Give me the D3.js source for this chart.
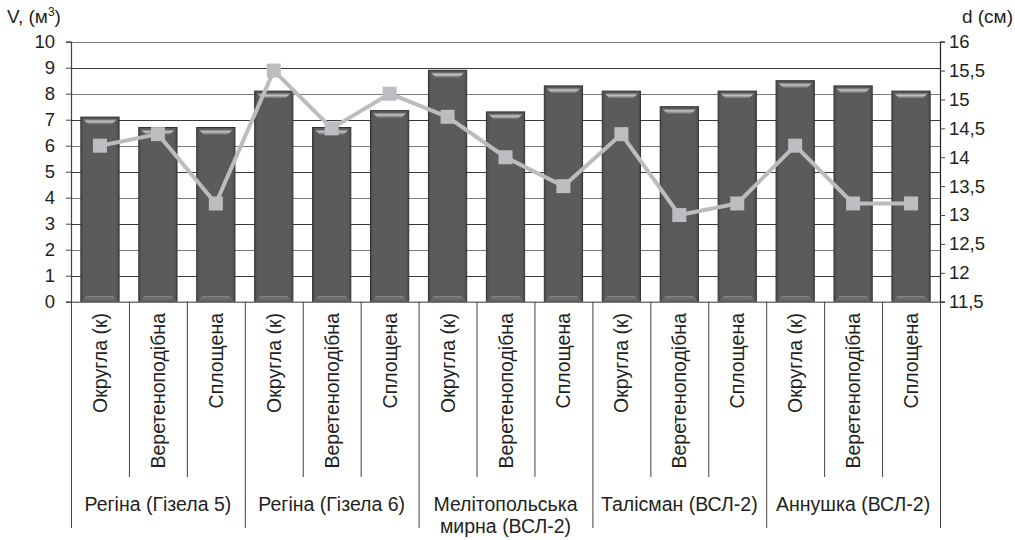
<!DOCTYPE html>
<html>
<head>
<meta charset="utf-8">
<script src="https://cdn.jsdelivr.net/npm/d3@7"></script>
<style>
  html, body { margin: 0; padding: 0; background: #fff; }
  svg text { font-family: "Liberation Sans", Arial, sans-serif; fill: #231f20; }
</style>
</head>
<body>
<svg id="chart" width="1015" height="540"></svg>
<script>
// Varieties (groups) and fruit shapes within each
const groups = ["Регіна (Гізела 5)", "Регіна (Гізела 6)", "Мелітопольська\nмирна (ВСЛ-2)", "Талісман (ВСЛ-2)", "Аннушка (ВСЛ-2)"];
const shapes = ["Округла (к)", "Веретеноподібна", "Сплощена"];

// Crown volume, m³ (bars, left axis)
const volume = [7.1, 6.7, 6.7, 8.1, 6.7, 7.35, 8.9, 7.3, 8.3, 8.1, 7.5, 8.1, 8.5, 8.3, 8.1];
// Trunk diameter, cm (line, right axis)
const diameter = [14.2, 14.4, 13.2, 15.5, 14.5, 15.1, 14.7, 14.0, 13.5, 14.4, 13.0, 13.2, 14.2, 13.2, 13.2];

const leftTicks = [0, 1, 2, 3, 4, 5, 6, 7, 8, 9, 10];
const rightTicks = [11.5, 12, 12.5, 13, 13.5, 14, 14.5, 15, 15.5, 16];

const svg = d3.select("#chart");
const plot = { left: 71, right: 940, top: 41.7, bottom: 301.7 };

const cats = d3.range(groups.length * shapes.length);
const x = d3.scaleBand().domain(cats).range([plot.left, plot.right]).paddingInner(0.34).paddingOuter(0.17);
const xb = d3.scaleBand().domain(cats).range([plot.left, plot.right]);
const yL = d3.scaleLinear().domain([0, 10]).range([plot.bottom, plot.top]);
const yR = d3.scaleLinear().domain([11.5, 16]).range([plot.bottom, plot.top]);

const defs = svg.append("defs");
const bevel = defs.append("linearGradient").attr("id", "bevel").attr("x1", 0).attr("y1", 0).attr("x2", 0).attr("y2", 1);
bevel.append("stop").attr("offset", "0%").attr("stop-color", "#4e4e4e");
bevel.append("stop").attr("offset", "45%").attr("stop-color", "#c4c4c4");
bevel.append("stop").attr("offset", "100%").attr("stop-color", "#5e5e5e");
const side = defs.append("linearGradient").attr("id", "side").attr("x1", 0).attr("y1", 0).attr("x2", 1).attr("y2", 0);
side.append("stop").attr("offset", "0%").attr("stop-color", "#4a4a4a");
side.append("stop").attr("offset", "8%").attr("stop-color", "#5b5b5b");
side.append("stop").attr("offset", "92%").attr("stop-color", "#5b5b5b");
side.append("stop").attr("offset", "100%").attr("stop-color", "#4a4a4a");

// Horizontal gridlines (left axis)
svg.append("g").selectAll("line").data(leftTicks).join("line")
  .attr("x1", plot.left).attr("x2", plot.right)
  .attr("y1", d => Math.round(yL(d)) + 0.5).attr("y2", d => Math.round(yL(d)) + 0.5)
  .attr("stroke", (d, i) => i % 2 ? "#3a3a3a" : "#7a7a7a").attr("stroke-width", 1.2);

// Left axis
const axL = svg.append("g").attr("transform", `translate(${plot.left},0)`)
  .call(d3.axisLeft(yL).tickValues(leftTicks).tickSize(5).tickPadding(11).tickFormat(d3.format("d")));
axL.select(".domain").attr("stroke", "#444").attr("stroke-width", 1.2);
axL.selectAll(".tick line").attr("stroke", "#444");
axL.selectAll("text").attr("font-size", 18.5).attr("font-family", "Liberation Sans, Arial, sans-serif").attr("fill", "#231f20");

// Right axis
const fmtR = d => String(d).replace(".", ",");
const axR = svg.append("g").attr("transform", `translate(${plot.right},0)`)
  .call(d3.axisRight(yR).tickValues(rightTicks).tickSize(5).tickPadding(4).tickFormat(fmtR));
axR.select(".domain").attr("stroke", "#222").attr("stroke-width", 1.2);
axR.selectAll(".tick line").attr("stroke", "#444");
axR.selectAll("text").attr("font-size", 18.5).attr("font-family", "Liberation Sans, Arial, sans-serif").attr("fill", "#231f20");

// Bars
const bars = svg.append("g").selectAll("g").data(volume).join("g");
bars.append("rect")
  .attr("x", (d, i) => x(i)).attr("y", d => yL(d))
  .attr("width", x.bandwidth()).attr("height", d => plot.bottom - yL(d))
  .attr("fill", "url(#side)").attr("stroke", "#333").attr("stroke-width", 1);
bars.append("path")
  .attr("d", (d, i) => {
    const x0 = x(i) + 1.5, x1 = x(i) + x.bandwidth() - 1.5, t = yL(d) + 1.5, h = 6;
    return `M${x0},${t}L${x1},${t}L${x1 - 6},${t + h}L${x0 + 6},${t + h}Z`;
  })
  .attr("fill", "url(#bevel)");
bars.append("path")
  .attr("d", (d, i) => {
    const x0 = x(i) + 1.5, x1 = x(i) + x.bandwidth() - 1.5, b = plot.bottom - 1.5, h = 4;
    return `M${x0},${b}L${x1},${b}L${x1 - 4},${b - h}L${x0 + 4},${b - h}Z`;
  })
  .attr("fill", "#6c6c6c");
bars.append("line")
  .attr("x1", (d, i) => x(i) + 5).attr("x2", (d, i) => x(i) + x.bandwidth() - 5)
  .attr("y1", plot.bottom - 5).attr("y2", plot.bottom - 5)
  .attr("stroke", "#8a8a8a").attr("stroke-width", 1);

// Category axis baseline
svg.append("line").attr("x1", plot.left).attr("x2", plot.right)
  .attr("y1", plot.bottom + 0.5).attr("y2", plot.bottom + 0.5)
  .attr("stroke", "#777").attr("stroke-width", 1.5);

// Diameter line with square markers
const line = d3.line().x((d, i) => xb(i) + xb.bandwidth() / 2).y(d => yR(d));
svg.append("path").datum(diameter).attr("d", line)
  .attr("fill", "none").attr("stroke", "#bbbcbe").attr("stroke-width", 4).attr("stroke-linejoin", "round");
svg.append("g").selectAll("rect").data(diameter).join("rect")
  .attr("x", (d, i) => xb(i) + xb.bandwidth() / 2 - 7).attr("y", d => yR(d) - 7)
  .attr("width", 14).attr("height", 14).attr("fill", "#bcbdc0");

// Category separators: short ones between shapes, long ones between varieties
const sepY1 = plot.bottom, sepMinor = 477, sepMajor = 528;
const seps = d3.range(cats.length + 1);
svg.append("g").selectAll("line").data(seps).join("line")
  .attr("x1", i => (i < cats.length ? xb(i) : plot.right) + 0.5)
  .attr("x2", i => (i < cats.length ? xb(i) : plot.right) + 0.5)
  .attr("y1", sepY1).attr("y2", i => i % 3 === 0 ? sepMajor : sepMinor)
  .attr("stroke", "#444").attr("stroke-width", 1);

// Shape labels (rotated)
svg.append("g").selectAll("text").data(cats).join("text")
  .attr("transform", i => `translate(${xb(i) + xb.bandwidth() / 2 + 7},313) rotate(-90)`)
  .attr("text-anchor", "end").attr("font-size", 19.5)
  .text(i => shapes[i % 3]);

// Variety labels
const gw = xb.bandwidth() * 3;
const gl = svg.append("g").selectAll("text").data(groups).join("text")
  .attr("x", (g, j) => xb(j * 3) + gw / 2).attr("y", 511)
  .attr("text-anchor", "middle").attr("font-size", 19.5);
gl.each(function (g) {
  const parts = g.split("\n");
  const t = d3.select(this);
  parts.forEach((p, k) => t.append("tspan").attr("x", t.attr("x")).attr("dy", k ? 22 : 0).text(p));
});

// Axis titles
svg.append("text").attr("x", 7).attr("y", 23).attr("font-size", 19)
  .html('V, (м<tspan dy="-7" font-size="12">3</tspan><tspan dy="7">)</tspan>');
svg.append("text").attr("x", 1013).attr("y", 23).attr("font-size", 19).attr("text-anchor", "end").text("d (см)");
</script>
</body>
</html>
